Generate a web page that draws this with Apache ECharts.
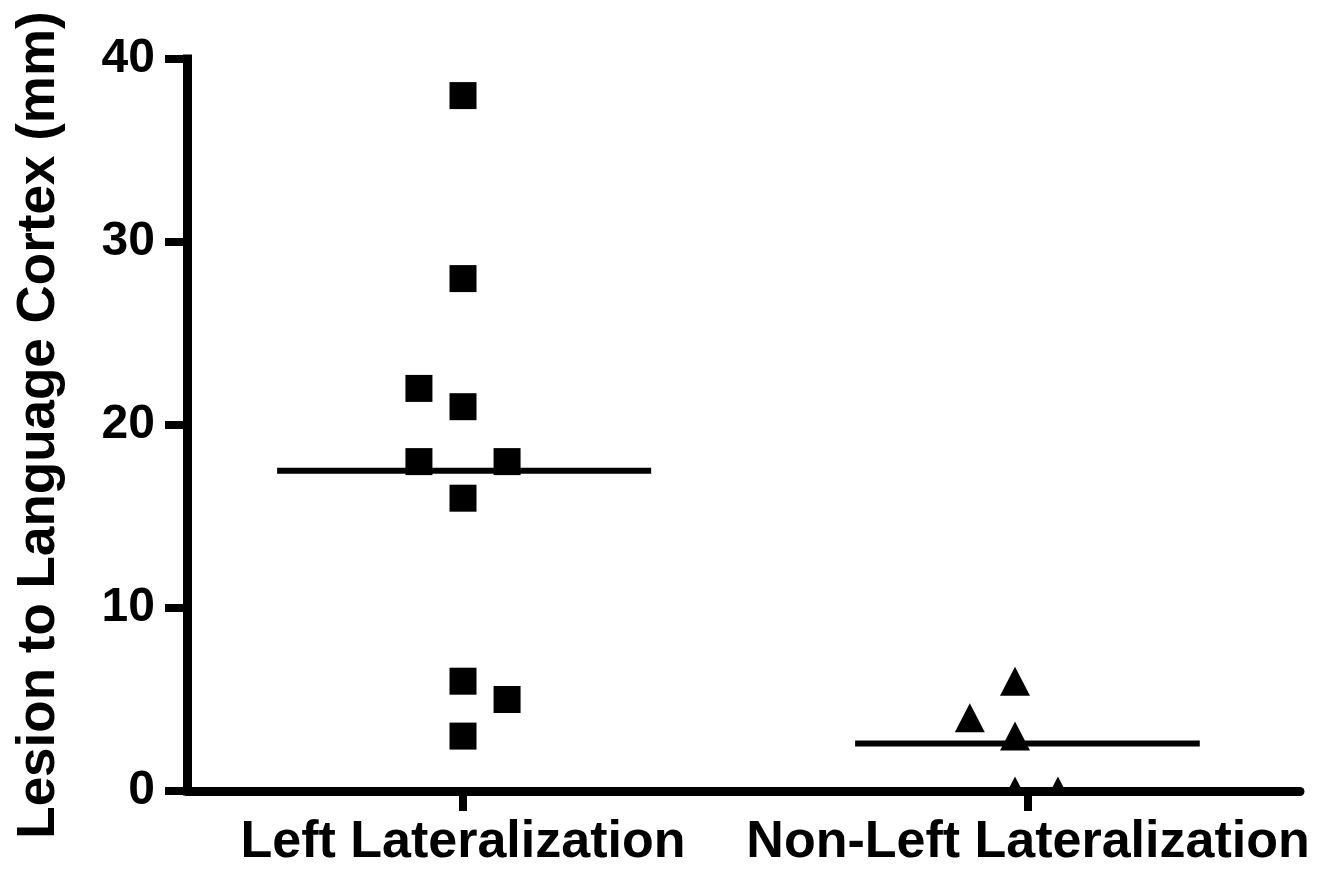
<!DOCTYPE html>
<html>
<head>
<meta charset="utf-8">
<script src="https://cdn.jsdelivr.net/npm/echarts@6/dist/echarts.min.js"></script>
<style>
html,body{margin:0;padding:0;background:#fff;}
#chart{width:1326px;height:869px;}
</style>
</head>
<body>
<div id="chart"></div>
<script>
// ---- data ----
var categories = ['Left Lateralization', 'Non-Left Lateralization'];
var categoryPos = [1, 2];
var leftValues = [38, 28, 22, 21, 18, 18, 16, 6, 5, 3];
var leftJitter = [0, 0, -0.078, 0, -0.078, 0.078, 0, 0, 0.078, 0];
var nonLeftValues = [6, 4, 3, 0, 0];
var nonLeftJitter = [-0.023, -0.103, -0.023, -0.023, 0.053];
var groupMeans = [17.5, 2.6];
var meanHalfWidth = [[-0.329, 0.333], [-0.306, 0.304]];
var yTicks = [0, 10, 20, 30, 40];

var FONT = '"Liberation Sans", Arial, Helvetica, sans-serif';

function pts(pos, vals, jit) {
  return vals.map(function (v, i) { return [pos + jit[i], v]; });
}
function meanLine(i) {
  return [[categoryPos[i] + meanHalfWidth[i][0], groupMeans[i]],
          [categoryPos[i] + meanHalfWidth[i][1], groupMeans[i]]];
}

var TRI_W = 30, TRI_H = 29;

var chart = echarts.init(document.getElementById('chart'), null, {renderer: 'canvas'});
chart.setOption({
  backgroundColor: '#ffffff',
  animation: false,
  grid: {left: 187, right: 26, top: 59, bottom: 77, containLabel: false},
  xAxis: {
    type: 'value',
    min: 0.5115,
    max: 2.4814,
    splitLine: {show: false},
    axisLine: {show: true, onZero: false, lineStyle: {color: '#000', width: 9, cap: 'round'}},
    axisTick: {show: true, customValues: categoryPos, length: 20, inside: false,
      lineStyle: {color: '#000', width: 8}},
    axisLabel: {show: true, customValues: categoryPos, margin: 26,
      color: '#000', fontFamily: FONT, fontWeight: 'bold', fontSize: 52,
      formatter: function (v) {
        var i = categoryPos.indexOf(Math.round(v));
        return i >= 0 ? categories[i] : '';
      }}
  },
  yAxis: {
    type: 'value',
    min: 0,
    max: 40,
    interval: 10,
    name: 'Lesion to Language Cortex (mm)',
    nameLocation: 'middle',
    nameRotate: 90,
    nameGap: 121,
    nameTextStyle: {color: '#000', fontFamily: FONT, fontWeight: 'bold', fontSize: 53},
    splitLine: {show: false},
    axisLine: {show: true, lineStyle: {color: '#000', width: 9, cap: 'square'}},
    axisTick: {show: true, length: 22, lineStyle: {color: '#000', width: 8}},
    axisLabel: {show: true, margin: 32, color: '#000', fontFamily: FONT,
      fontWeight: 'bold', fontSize: 48,
      customValues: yTicks}
  },
  series: [
    {
      type: 'scatter', name: categories[0],
      symbol: 'rect', symbolSize: 27,
      itemStyle: {color: '#000', opacity: 1},
      data: pts(categoryPos[0], leftValues, leftJitter),
      z: 3
    },
    {
      type: 'custom', name: categories[1],
      clip: true,
      coordinateSystem: 'cartesian2d',
      encode: {x: 0, y: 1},
      data: pts(categoryPos[1], nonLeftValues, nonLeftJitter),
      renderItem: function (params, api) {
        var p = api.coord([api.value(0), api.value(1)]);
        return {
          type: 'polygon',
          shape: {points: [
            [p[0], p[1] - TRI_H / 2],
            [p[0] + TRI_W / 2, p[1] + TRI_H / 2],
            [p[0] - TRI_W / 2, p[1] + TRI_H / 2]
          ]},
          style: {fill: '#000'}
        };
      },
      z: 3
    },
    {
      type: 'line', showSymbol: false, symbol: 'none',
      lineStyle: {color: '#000', width: 6},
      data: meanLine(0), z: 4
    },
    {
      type: 'line', showSymbol: false, symbol: 'none',
      lineStyle: {color: '#000', width: 6},
      data: meanLine(1), z: 4
    }
  ]
});
</script>
</body>
</html>
